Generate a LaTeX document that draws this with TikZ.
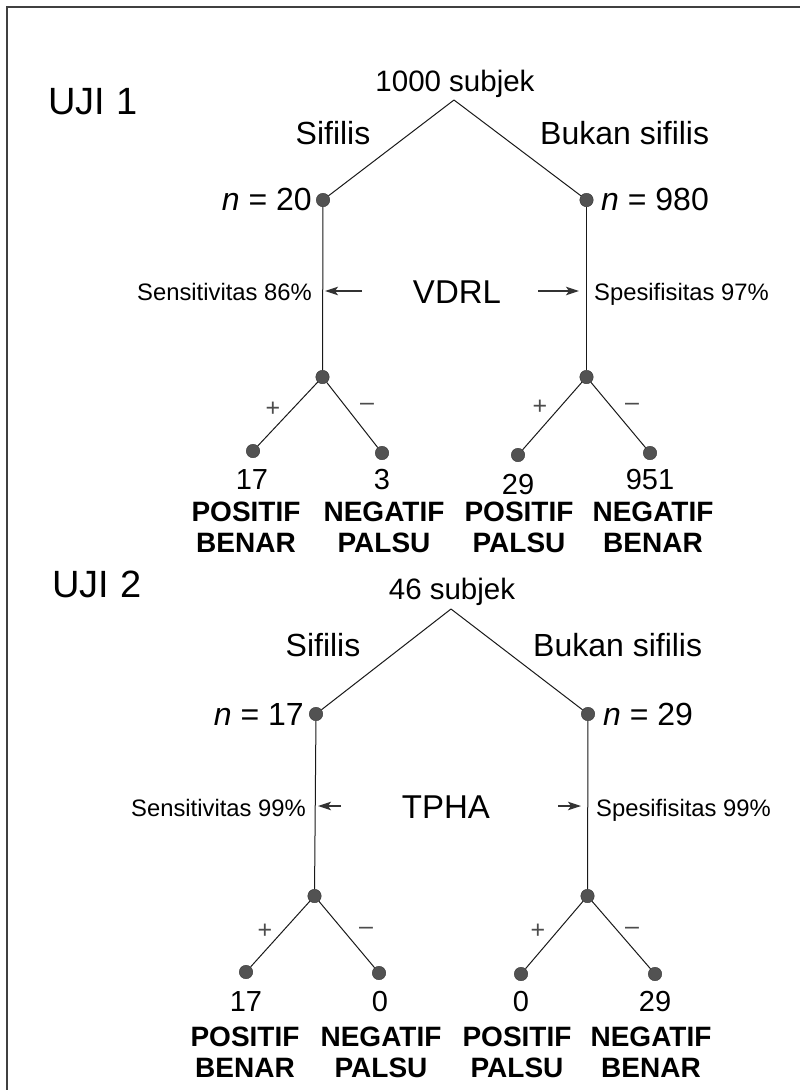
\documentclass[tikz,border=0pt]{standalone}
\usepackage{fontspec}
\setmainfont{Liberation Sans}
\usetikzlibrary{arrows.meta}
\begin{document}
\begin{tikzpicture}[x=1pt,y=-1pt,
  fs/.style={font=\fontsize{#1}{#1}\selectfont},
  title/.style={fs=38, anchor=base west},
  head/.style={fs=29.5, inner sep=0pt},
  lbl/.style={fs=32, inner sep=0pt},
  num/.style={fs=29, inner sep=0pt, anchor=base},
  small/.style={fs=23.8, inner sep=0pt},
  test/.style={fs=33, inner sep=0pt, anchor=center},
  sign/.style={fs=25, inner sep=0pt, text=black!70},
  result/.style={font=\fontsize{28}{31}\selectfont\bfseries, align=center, inner sep=0pt, anchor=base},
  dot/.style={circle, fill=black!68, draw=black!80, line width=0.4pt, inner sep=0pt, minimum size=13.5pt},
  branch/.style={draw=black!90, line width=1pt},
  arr/.style={draw=black!80, line width=1.2pt, -{Stealth[length=13pt, width=8.5pt, inset=3pt]}},
  frame/.style={draw=black!75, line width=1.6pt}]
\useasboundingbox (0,0) rectangle (800,1090);

% outer frame (only top and left edges fall inside the page)
\coordinate (fbl) at (7,1095);
\coordinate (ftl) at (7,7);
\coordinate (ftr) at (805,7);
\draw[frame] (fbl) -- (ftl) -- (ftr);

% ---------------- UJI 1 ----------------
\node[title] (u1) at (45,114) {UJI 1};
\node[head, anchor=base] (t1) at (455,91) {1000 subjek};
\coordinate (a1) at (454,100);
\node[lbl, anchor=base] (s1) at (333,144) {Sifilis};
\node[lbl, anchor=base west] (b1) at (540,144) {Bukan sifilis};

\node[dot] (l1) at (323,200) {};
\node[dot] (r1) at (586.5,200) {};
\node[lbl, anchor=base east] (nl1) at (312,210) {{\itshape n} = 20};
\node[lbl, anchor=base west] (nr1) at (601,210) {{\itshape n} = 980};

\node[dot] (lm1) at (322.5,377) {};
\node[dot] (rm1) at (586.5,377) {};

\node[small, anchor=base east] (se1) at (312,300) {Sensitivitas 86\%};
\node[small, anchor=base west] (sp1) at (594,300) {Spesifisitas 97\%};
\node[test] (v1) at (457,292) {VDRL};
\coordinate (al1) at (362,291);
\coordinate (ar1) at (538,291);
\coordinate (hl1) at (325,291);
\coordinate (hr1) at (579,291);

\node[dot] (ll1) at (253,451) {};
\node[dot] (lr1) at (382,453) {};
\node[dot] (rl1) at (518,455) {};
\node[dot] (rr1) at (650,453) {};

\node[sign] (p1) at (273,409) {+};
\node[sign] (m1) at (367,407) {--};
\node[sign] (p2) at (540,407) {+};
\node[sign] (m2) at (632,407) {--};

\node[num] (n11) at (252,489) {17};
\node[num] (n12) at (382,489) {3};
\node[num] (n13) at (518,494) {29};
\node[num] (n14) at (650,489) {951};

\node[result] (r11) at (246,552) {POSITIF\\BENAR};
\node[result] (r12) at (384,552) {NEGATIF\\PALSU};
\node[result] (r13) at (519,552) {POSITIF\\PALSU};
\node[result] (r14) at (653,552) {NEGATIF\\BENAR};

\draw[branch] (a1) -- (l1);
\draw[branch] (a1) -- (r1);
\draw[branch] (l1) -- (lm1);
\draw[branch] (r1) -- (rm1);
\draw[branch] (lm1) -- (ll1);
\draw[branch] (lm1) -- (lr1);
\draw[branch] (rm1) -- (rl1);
\draw[branch] (rm1) -- (rr1);
\draw[arr] (al1) -- (hl1);
\draw[arr] (ar1) -- (hr1);

% ---------------- UJI 2 ----------------
\node[title] (u2) at (49,597) {UJI 2};
\node[head, anchor=base] (t2) at (452,599) {46 subjek};
\coordinate (a2) at (451,609);
\node[lbl, anchor=base] (s2) at (323,656) {Sifilis};
\node[lbl, anchor=base west] (b2) at (533,656) {Bukan sifilis};

\node[dot] (l2) at (316,714) {};
\node[dot] (r2) at (588,714) {};
\node[lbl, anchor=base east] (nl2) at (304,725) {{\itshape n} = 17};
\node[lbl, anchor=base west] (nr2) at (603,725) {{\itshape n} = 29};

\node[dot] (lm2) at (314.5,896) {};
\node[dot] (rm2) at (587.5,896) {};

\node[small, anchor=base east] (se2) at (306,816) {Sensitivitas 99\%};
\node[small, anchor=base west] (sp2) at (596,816) {Spesifisitas 99\%};
\node[test] (v2) at (446,807) {TPHA};
\coordinate (al2) at (341,806);
\coordinate (ar2) at (558,806);
\coordinate (hl2) at (318,806);
\coordinate (hr2) at (581,806);

\node[dot] (ll2) at (246,972) {};
\node[dot] (lr2) at (379,973) {};
\node[dot] (rl2) at (521,974) {};
\node[dot] (rr2) at (655,974) {};

\node[sign] (p3) at (265,931) {+};
\node[sign] (m3) at (366,931) {--};
\node[sign] (p4) at (538,931) {+};
\node[sign] (m4) at (632,931) {--};

\node[num] (n21) at (246,1011) {17};
\node[num] (n22) at (380,1011) {0};
\node[num] (n23) at (521,1011) {0};
\node[num] (n24) at (655,1011) {29};

\node[result] (r21) at (245,1077) {POSITIF\\BENAR};
\node[result] (r22) at (381,1077) {NEGATIF\\PALSU};
\node[result] (r23) at (517,1077) {POSITIF\\PALSU};
\node[result] (r24) at (651,1077) {NEGATIF\\BENAR};

\draw[branch] (a2) -- (l2);
\draw[branch] (a2) -- (r2);
\draw[branch] (l2) -- (lm2);
\draw[branch] (r2) -- (rm2);
\draw[branch] (lm2) -- (ll2);
\draw[branch] (lm2) -- (lr2);
\draw[branch] (rm2) -- (rl2);
\draw[branch] (rm2) -- (rr2);
\draw[arr] (al2) -- (hl2);
\draw[arr] (ar2) -- (hr2);
\end{tikzpicture}
\end{document}
